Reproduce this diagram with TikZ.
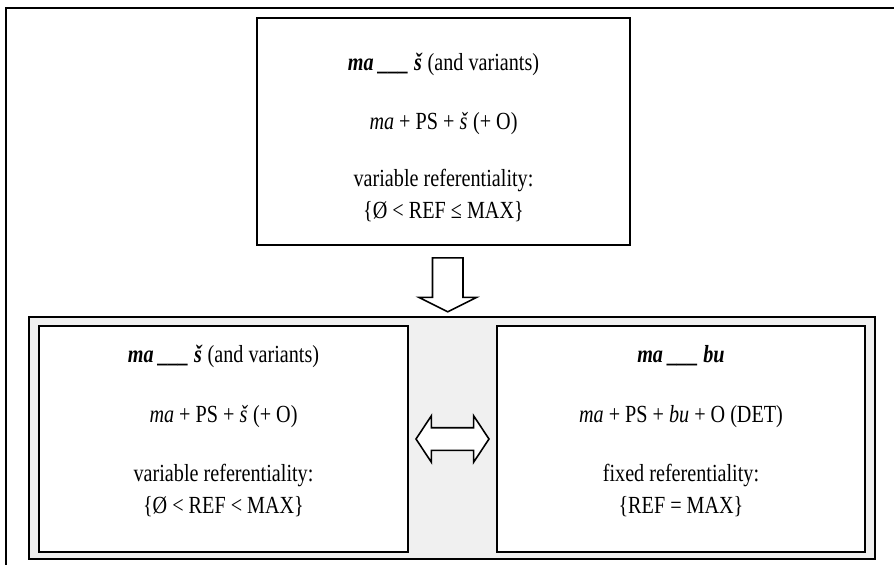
\documentclass[tikz,border=0pt]{standalone}
\usepackage{fontspec}
\setmainfont{Liberation Serif}[FakeStretch=0.82]
\usetikzlibrary{positioning}
\usetikzlibrary{calc}
\usetikzlibrary{shapes.arrows}

\begin{document}
\begin{tikzpicture}[
        x=0.02cm, y=-0.02cm,
        every node/.style={font=\fontsize{14}{18.2}\selectfont},
        frame/.style={draw, line width=1.1pt},
        box/.style={frame, fill=white, inner sep=0pt},
        boxtext/.style={align=center, inner sep=0pt},
        blockarrow/.style={draw, line width=0.9pt, fill=white, outer sep=0pt},
    ]
        % Colour palette
        \definecolor{panelgray}{RGB}{240,240,240}
        \useasboundingbox (0,0) rectangle (894,565);
        \clip (0,0) rectangle (894,565);
        % Outer frame, cut by the page
        \draw[frame] (6,8) rectangle (920,590);

        % Source construction
        \node[box, minimum width=7.46cm, minimum height=4.54cm] (top) at (443.5,131.5) {};
        \node[boxtext] (topText) at ($(top.center)+(0,6)$) {%
            \textbf{\textit{ma \_\_\_ š}} (and variants)\\[15.1pt]
            \textit{ma} + PS + \textit{š} (+ O)\\[14.2pt]
            variable referentiality:\\
            \{Ø < REF ≤ MAX\}};

        % Split into two constructions
        \node[frame, fill=panelgray, minimum width=16.92cm, minimum height=4.84cm] (panel) at (452,438) {};
        \node[box, minimum width=7.38cm, minimum height=4.52cm] (left) at (223.5,439) {};
        \node[box, minimum width=7.36cm, minimum height=4.52cm] (right) at (681,439) {};
        \node[boxtext] (leftText) at ($(left.center)+(0,-8)$) {%
            \textbf{\textit{ma \_\_\_ š}} (and variants)\\[15.9pt]
            \textit{ma} + PS + \textit{š} (+ O)\\[15.3pt]
            variable referentiality:\\
            \{Ø < REF < MAX\}};
        \node[boxtext] (rightText) at ($(right.center)+(0,-8)$) {%
            \textbf{\textit{ma \_\_\_ bu}}\\[15.9pt]
            \textit{ma} + PS + \textit{bu} + O (DET)\\[15.3pt]
            fixed referentiality:\\
            \{REF = MAX\}};

        % Arrows
        \node[blockarrow, single arrow, rotate=-90, minimum height=1.08cm, inner sep=0.29cm,
              single arrow head extend=0.27cm, single arrow tip angle=127]
              (down) at ($(top.south)!0.5!(panel.north)$) {};
        \node[blockarrow, double arrow, minimum height=1.46cm, inner sep=0.21cm,
              double arrow head extend=0.24cm, double arrow tip angle=113]
              (swap) at ($(left.east)!0.5!(right.west)$) {};

    \end{tikzpicture}
\end{document}
